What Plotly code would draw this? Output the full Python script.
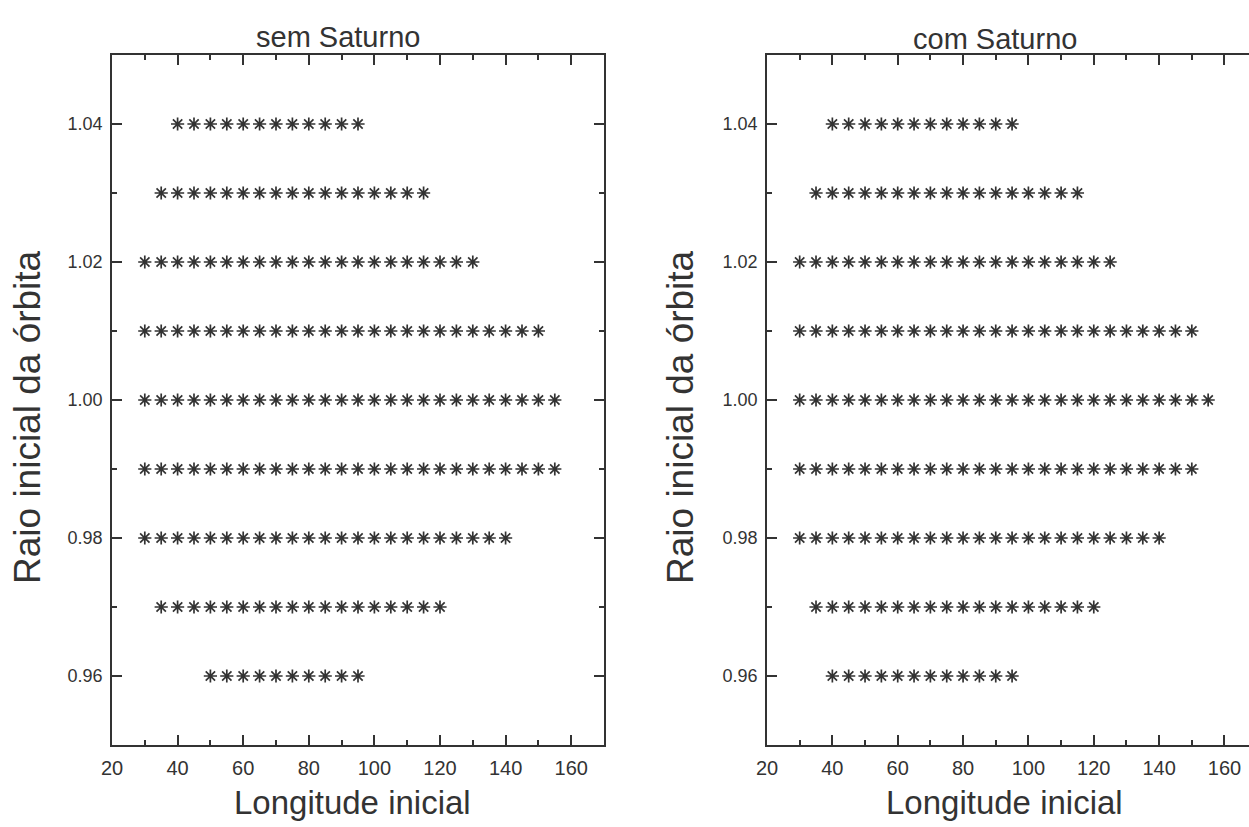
import plotly.graph_objects as go

# ---- data ----
radii = [1.04, 1.03, 1.02, 1.01, 1.00, 0.99, 0.98, 0.97, 0.96]
step_deg = 5  # spacing of the initial-longitude grid

# first and last stable initial longitude for each radius
sem_start = [40, 35, 30, 30, 30, 30, 30, 35, 50]
sem_end   = [95, 115, 130, 150, 155, 155, 140, 120, 95]
com_start = [40, 35, 30, 30, 30, 30, 30, 35, 40]
com_end   = [95, 115, 125, 150, 155, 150, 140, 120, 95]

x_ticks = [20, 40, 60, 80, 100, 120, 140, 160]
y_ticks = [0.96, 0.98, 1.00, 1.02, 1.04]

titles = ["sem Saturno", "com Saturno"]
xlabel = "Longitude inicial"
ylabel = "Raio inicial da órbita"


def expand(starts, ends):
    xs, ys = [], []
    for r, a, b in zip(radii, starts, ends):
        for lon in range(a, b + 1, step_deg):
            xs.append(lon)
            ys.append(r)
    return xs, ys


FONT = "Liberation Sans, Arial, sans-serif"
INK = "#333333"
W, H = 1249, 827

fig = go.Figure()
marker = dict(symbol="asterisk-open", size=11, color=INK,
              line=dict(color=INK, width=1.7))

x1, y1 = expand(sem_start, sem_end)
x2, y2 = expand(com_start, com_end)
fig.add_trace(go.Scatter(x=x1, y=y1, mode="markers", marker=marker,
                         xaxis="x", yaxis="y", showlegend=False))
fig.add_trace(go.Scatter(x=x2, y=y2, mode="markers", marker=marker,
                         xaxis="x2", yaxis="y2", showlegend=False))

top_px, bot_px = 55, 745
ydom = [1 - bot_px / H, 1 - top_px / H]
dom1 = [112.0 / W, 604.0 / W]
dom2 = [767.0 / W, 1.0]


def xax(dom, rng, anchor, mirror):
    return dict(domain=dom, range=rng, anchor=anchor, automargin=False,
                tickmode="array", tickvals=x_ticks,
                ticks="inside", ticklen=10, tickwidth=1.5, tickcolor=INK,
                minor=dict(tickvals=[30, 50, 70, 90, 110, 130, 150, 170],
                           ticks="inside", ticklen=5, tickwidth=1.5, tickcolor=INK),
                showline=True, linecolor=INK, linewidth=1.5, mirror=mirror,
                showgrid=False, zeroline=False, ticklabelstandoff=4,
                tickfont=dict(family=FONT, size=20, color=INK))


def yax(dom, anchor, mirror):
    return dict(domain=dom, range=[0.95, 1.05], anchor=anchor, automargin=False,
                tickmode="array", tickvals=y_ticks,
                ticktext=[f"{v:.2f}" for v in y_ticks],
                ticks="inside", ticklen=10, tickwidth=1.5, tickcolor=INK,
                minor=dict(tickvals=[0.97, 0.99, 1.01, 1.03],
                           ticks="inside", ticklen=5, tickwidth=1.5, tickcolor=INK),
                showline=True, linecolor=INK, linewidth=1.5, mirror=mirror,
                showgrid=False, zeroline=False, ticklabelstandoff=4,
                tickfont=dict(family=FONT, size=18, color=INK))


fig.update_layout(
    width=W, height=H, autosize=False,
    margin=dict(l=0, r=0, t=0, b=0, autoexpand=False),
    paper_bgcolor="white", plot_bgcolor="white",
    xaxis=xax(dom1, [20, 170], "y", "ticks"),
    yaxis=yax(ydom, "x", "ticks"),
    xaxis2=xax(dom2, [20, 167.5], "y2", "ticks"),
    yaxis2=yax(ydom, "x2", False),
)


def py(px):
    return 1 - px / H


def pxx(px):
    return px / W


ann = []
ann.append(dict(text=titles[0], x=pxx(338), y=py(37), xref="paper", yref="paper",
                showarrow=False, xanchor="center", yanchor="middle",
                font=dict(family=FONT, size=29, color=INK)))
ann.append(dict(text=titles[1], x=pxx(995), y=py(39), xref="paper", yref="paper",
                showarrow=False, xanchor="center", yanchor="middle",
                font=dict(family=FONT, size=29, color=INK)))
for cx in (352, 1004):
    ann.append(dict(text=xlabel, x=pxx(cx), y=py(802), xref="paper", yref="paper",
                    showarrow=False, xanchor="center", yanchor="middle",
                    font=dict(family=FONT, size=33, color=INK)))
for cx in (27, 680):
    ann.append(dict(text=ylabel, x=pxx(cx), y=py(417), xref="paper", yref="paper",
                    showarrow=False, xanchor="center", yanchor="middle", textangle=-90,
                    font=dict(family=FONT, size=37, color=INK)))
fig.update_layout(annotations=ann)

fig.write_html("out.html")
